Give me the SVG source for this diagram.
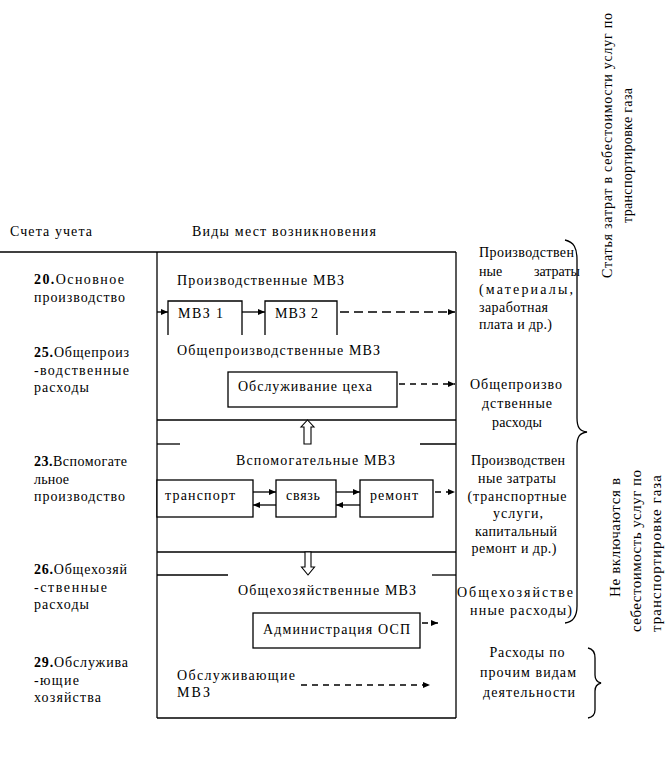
<svg xmlns="http://www.w3.org/2000/svg" width="670" height="769" viewBox="0 0 670 769" font-family="'Liberation Serif', Tinos, 'Times New Roman', 'DejaVu Serif', serif">
<style>
text{font-family:"Liberation Serif",Tinos,"Times New Roman","DejaVu Serif",serif;font-size:14px;fill:#000}
.b{font-weight:bold}
.m{text-anchor:middle}
.ln{stroke:#000;stroke-width:1.3;fill:none}
.dash{stroke:#000;stroke-width:1.3;fill:none;stroke-dasharray:9,5}
.dash2{stroke:#000;stroke-width:1.3;fill:none;stroke-dasharray:6,5}
.box{stroke:#000;stroke-width:1.3;fill:#fff}
.hol{stroke:#000;stroke-width:1.1;fill:#fff}
</style>
<defs>
<marker id="ah" markerWidth="8" markerHeight="8" refX="7" refY="4" orient="auto" markerUnits="userSpaceOnUse">
<path d="M0,1 L7,4 L0,7 Z" fill="#000"/>
</marker>
</defs>
<rect width="670" height="769" fill="#fff"/>

<g id="headers">
<text x="10" y="236" textLength="82" lengthAdjust="spacing">Счета учета</text>
<text x="192" y="236" textLength="184" lengthAdjust="spacing">Виды мест возникновения</text>
</g>

<g id="frame">
<line class="ln" x1="0" y1="252" x2="456" y2="252"/>
<line class="ln" x1="157" y1="252" x2="157" y2="718"/>
<line class="ln" x1="456" y1="252" x2="456" y2="718"/>
<line class="ln" x1="157" y1="718" x2="456" y2="718"/>
<line class="ln" x1="157" y1="420" x2="456" y2="420"/>
<line class="ln" x1="157" y1="444" x2="180" y2="444"/>
<line class="ln" x1="420" y1="444" x2="456" y2="444"/>
<line class="ln" x1="157" y1="552" x2="456" y2="552"/>
<line class="ln" x1="157" y1="575" x2="228" y2="575"/>
<line class="ln" x1="432" y1="575" x2="456" y2="575"/>
</g>

<g id="accounts">
<text x="34" y="284" textLength="90" lengthAdjust="spacing"><tspan class="b">20.</tspan>Основное</text>
<text x="34" y="302" textLength="91" lengthAdjust="spacing">производство</text>
<text x="34" y="357" textLength="95" lengthAdjust="spacing"><tspan class="b">25.</tspan>Общепроиз</text>
<text x="34" y="375" textLength="95" lengthAdjust="spacing">-водственные</text>
<text x="34" y="392" textLength="55" lengthAdjust="spacing">расходы</text>
<text x="34" y="466" textLength="93" lengthAdjust="spacing"><tspan class="b">23.</tspan>Вспомогате</text>
<text x="34" y="484" textLength="35" lengthAdjust="spacing">льное</text>
<text x="34" y="501" textLength="91" lengthAdjust="spacing">производство</text>
<text x="34" y="574" textLength="93" lengthAdjust="spacing"><tspan class="b">26.</tspan>Общехозяй</text>
<text x="34" y="592" textLength="73" lengthAdjust="spacing">-ственные</text>
<text x="34" y="609" textLength="55" lengthAdjust="spacing">расходы</text>
<text x="34" y="667" textLength="94" lengthAdjust="spacing"><tspan class="b">29.</tspan>Обслужива</text>
<text x="34" y="685" textLength="45" lengthAdjust="spacing">-ющие</text>
<text x="34" y="702" textLength="67" lengthAdjust="spacing">хозяйства</text>
</g>

<g id="section-production">
<text x="177" y="285" textLength="167" lengthAdjust="spacing">Производственные МВЗ</text>
</g>
<g id="mvz1">
<path class="ln" d="M168,335 V301 H242 V335"/>
<text x="178" y="318" textLength="45" lengthAdjust="spacing">МВЗ 1</text>
</g>
<g id="mvz2">
<path class="ln" d="M265,335 V301 H337 V335"/>
<text x="275" y="318" textLength="43" lengthAdjust="spacing">МВЗ 2</text>
</g>

<g id="section-general-production">
<text x="177" y="355" textLength="203" lengthAdjust="spacing">Общепроизводственные МВЗ</text>
</g>
<g id="shop">
<rect class="box" x="228" y="372" width="169" height="35"/>
<text x="238" y="391" textLength="134" lengthAdjust="spacing">Обслуживание цеха</text>
</g>

<g id="section-auxiliary">
<text x="236" y="465" textLength="159" lengthAdjust="spacing">Вспомогательные МВЗ</text>
</g>
<g id="transport">
<rect class="box" x="157" y="480" width="96" height="37"/>
<text x="165" y="500" textLength="70" lengthAdjust="spacing">транспорт</text>
</g>
<g id="svyaz">
<rect class="box" x="276" y="480" width="60" height="37"/>
<text x="286" y="500" textLength="34" lengthAdjust="spacing">связь</text>
</g>
<g id="remont">
<rect class="box" x="360" y="480" width="73" height="37"/>
<text x="370" y="500" textLength="48" lengthAdjust="spacing">ремонт</text>
</g>

<g id="section-general-admin">
<text x="238" y="595" textLength="178" lengthAdjust="spacing">Общехозяйственные МВЗ</text>
</g>
<g id="admin">
<rect class="box" x="253" y="613" width="167" height="35"/>
<text x="263" y="634" textLength="147" lengthAdjust="spacing">Администрация ОСП</text>
</g>

<g id="section-service">
<text x="177" y="680" textLength="118" lengthAdjust="spacing">Обслуживающие</text>
<text x="177" y="697" textLength="33" lengthAdjust="spacing">МВЗ</text>
</g>

<g id="connectors">
<line class="ln" x1="157" y1="312" x2="168" y2="312" marker-end="url(#ah)"/>
<line class="ln" x1="242" y1="312" x2="265" y2="312" marker-end="url(#ah)"/>
<line class="dash" x1="340" y1="312" x2="455" y2="312" marker-end="url(#ah)"/>
<line class="dash2" x1="399" y1="384" x2="455" y2="384" marker-end="url(#ah)"/>
<line class="ln" x1="253" y1="492" x2="276" y2="492" marker-end="url(#ah)"/>
<line class="ln" x1="276" y1="505" x2="253" y2="505" marker-end="url(#ah)"/>
<line class="ln" x1="336" y1="492" x2="360" y2="492" marker-end="url(#ah)"/>
<line class="ln" x1="360" y1="505" x2="336" y2="505" marker-end="url(#ah)"/>
<line class="dash2" x1="435" y1="492" x2="455" y2="492" stroke-dasharray="5,4" marker-end="url(#ah)"/>
<line class="dash2" x1="422" y1="623" x2="438" y2="623" stroke-dasharray="4,4" marker-end="url(#ah)"/>
<line class="dash2" x1="301" y1="685" x2="430" y2="685" stroke-dasharray="6,4" marker-end="url(#ah)"/>
<path class="hol" d="M304,444 V427 H301 L307.5,420 L314,427 H311 V444 Z"/>
<path class="hol" d="M305,552 V567 H301.5 L308,575 L314.5,567 H311 V552 Z"/>
</g>

<g id="right-labels">
<text x="479" y="257" textLength="95" lengthAdjust="spacing">Производствен</text>
<text x="479" y="276">ные</text>
<text x="580" y="276" text-anchor="end">затраты</text>
<text x="479" y="294" textLength="94" lengthAdjust="spacing">(материалы,</text>
<text x="479" y="312" textLength="69" lengthAdjust="spacing">заработная</text>
<text x="479" y="329" textLength="73" lengthAdjust="spacing">плата и др.)</text>
<text class="m" x="516" y="389" textLength="92" lengthAdjust="spacing">Общепроизво</text>
<text class="m" x="517" y="408" textLength="70" lengthAdjust="spacing">дственные</text>
<text class="m" x="517" y="427" textLength="50" lengthAdjust="spacing">расходы</text>
<text class="m" x="518" y="465" textLength="94" lengthAdjust="spacing">Производствен</text>
<text class="m" x="517" y="483" textLength="78" lengthAdjust="spacing">ные затраты</text>
<text class="m" x="517" y="501" textLength="99" lengthAdjust="spacing">(транспортные</text>
<text class="m" x="518" y="518" textLength="50" lengthAdjust="spacing">услуги,</text>
<text class="m" x="516" y="536" textLength="82" lengthAdjust="spacing">капитальный</text>
<text class="m" x="514" y="553" textLength="85" lengthAdjust="spacing">ремонт и др.)</text>
<text class="m" x="515" y="597" textLength="116" lengthAdjust="spacing">Общехозяйстве</text>
<text class="m" x="521" y="615" textLength="102" lengthAdjust="spacing">нные расходы)</text>
<text class="m" x="527" y="657" textLength="75" lengthAdjust="spacing">Расходы по</text>
<text class="m" x="528" y="677" textLength="96" lengthAdjust="spacing">прочим видам</text>
<text class="m" x="529" y="697" textLength="92" lengthAdjust="spacing">деятельности</text>
</g>

<g id="braces">
<path class="ln" d="M565,240 C574,242 577,248 577,260 V418 C577,428 580,431 587,432 C580,433 577,436 577,446 V606 C577,617 573,622 565,623"/>
<path class="ln" d="M588,648 C593,649 595,652 595,658 V675 C595,680 597,682 601,683 C597,684 595,686 595,691 V710 C595,715 593,717 588,718"/>
</g>

<g id="vertical-labels">
<text class="m" transform="translate(612,145.5) rotate(-90)" textLength="265" lengthAdjust="spacing">Статья затрат в себестоимости услуг по</text>
<text class="m" transform="translate(632,155.5) rotate(-90)" textLength="135" lengthAdjust="spacing">транспортировке газа</text>
<text class="m" transform="translate(620,537.5) rotate(-90)" style="font-size:15px" textLength="119" lengthAdjust="spacing">Не включаются в</text>
<text class="m" transform="translate(641,551) rotate(-90)" style="font-size:15px" textLength="162" lengthAdjust="spacing">себестоимость услуг по</text>
<text class="m" transform="translate(661,553.5) rotate(-90)" style="font-size:15px" textLength="157" lengthAdjust="spacing">транспортировке газа</text>
</g>
</svg>
